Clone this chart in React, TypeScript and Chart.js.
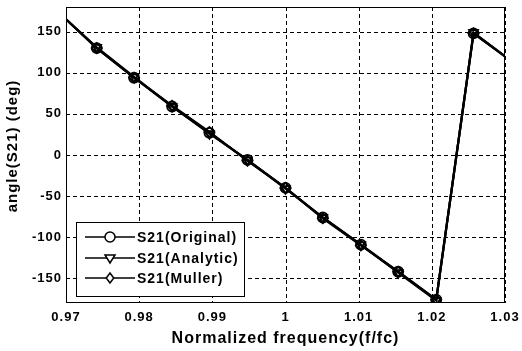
import React, { useEffect, useRef } from 'react';
import { Chart, registerables } from 'chart.js';

Chart.register(...registerables);

// ---- Data ----
const freq = [0.97, 0.9742, 0.9793, 0.9845, 0.9896, 0.9948, 1.0, 1.0051, 1.0103, 1.0154, 1.0206, 1.0257, 1.03];
const s21Original = [165, 130, 94, 59, 27, -6, -40, -76, -109, -142, -176, 148, 120];
const s21Analytic = [165, 131, 95, 59, 26, -6, -41, -76, -109, -143, -177, 149, 120];
const s21Muller = [165, 130, 94, 60, 28, -7, -40, -77, -110, -142, -176, 148, 120];
const xTicks = [0.97, 0.98, 0.99, 1.0, 1.01, 1.02, 1.03];
const yTicks = [-150, -100, -50, 0, 50, 100, 150];
const seriesNames = ['S21(Original)', 'S21(Analytic)', 'S21(Muller)'];
const xTitle = 'Normalized frequency(f/fc)';
const yTitle = 'angle(S21) (deg)';

const FONT = "'Liberation Sans', Arial, sans-serif";

function markerRadii(n: number) {
  return freq.map((_, i) => (i === 0 || i === n - 1 ? 0 : 5));
}

function drawMarker(ctx: CanvasRenderingContext2D, kind: string, x: number, y: number, r: number) {
  ctx.beginPath();
  if (kind === 'circle') {
    ctx.arc(x, y, r, 0, Math.PI * 2);
  } else if (kind === 'tri') {
    ctx.moveTo(x - r, y - r * 0.6);
    ctx.lineTo(x + r, y - r * 0.6);
    ctx.lineTo(x, y + r);
    ctx.closePath();
  } else {
    ctx.moveTo(x, y - r);
    ctx.lineTo(x + r * 0.75, y);
    ctx.lineTo(x, y + r);
    ctx.lineTo(x - r * 0.75, y);
    ctx.closePath();
  }
  ctx.fillStyle = '#fff';
  ctx.fill();
  ctx.stroke();
}

const decorPlugin = {
  id: 'decor',
  beforeDraw(chart: any) {
    (chart.ctx as any).letterSpacing = '1px';
  },
  beforeDatasetsDraw(chart: any) {
    const ctx: CanvasRenderingContext2D = chart.ctx;
    const a = chart.chartArea;
    const xs = chart.scales.x;
    const ys = chart.scales.y;
    ctx.save();
    ctx.strokeStyle = '#000';
    ctx.lineWidth = 1;
    ctx.setLineDash([4, 3]);
    xTicks.forEach((v) => {
      const px = Math.round(xs.getPixelForValue(v)) + 0.5;
      ctx.beginPath();
      ctx.moveTo(px, a.top);
      ctx.lineTo(px, a.bottom);
      ctx.stroke();
    });
    yTicks.forEach((v) => {
      const py = Math.round(ys.getPixelForValue(v)) + 0.5;
      ctx.beginPath();
      ctx.moveTo(a.left, py);
      ctx.lineTo(a.right, py);
      ctx.stroke();
    });
    ctx.restore();
  },
  afterDraw(chart: any) {
    const ctx: CanvasRenderingContext2D = chart.ctx;
    const a = chart.chartArea;
    ctx.save();
    // frame
    ctx.strokeStyle = '#000';
    ctx.lineWidth = 1;
    ctx.setLineDash([]);
    ctx.strokeRect(Math.round(a.left) + 0.5, Math.round(a.top) + 0.5, Math.round(a.right - a.left) - 1, Math.round(a.bottom - a.top) - 1);

    // legend box
    const bx = 76.5, by = 222.5, bw = 168, bh = 74;
    ctx.fillStyle = '#fff';
    ctx.fillRect(bx, by, bw, bh);
    ctx.strokeRect(bx, by, bw, bh);
    const rows = [237, 258, 278];
    const kinds = ['circle', 'tri', 'diamond'];
    ctx.font = `bold 14px ${FONT}`;
    (ctx as any).letterSpacing = '1px';
    ctx.textBaseline = 'middle';
    ctx.textAlign = 'left';
    rows.forEach((ry, i) => {
      ctx.strokeStyle = '#000';
      ctx.lineWidth = 1.5;
      ctx.beginPath();
      ctx.moveTo(85, ry);
      ctx.lineTo(135, ry);
      ctx.stroke();
      drawMarker(ctx, kinds[i], 110, ry, 5);
      ctx.fillStyle = '#000';
      ctx.fillText(seriesNames[i], 137, ry + 1);
    });

    // axis titles
    ctx.fillStyle = '#000';
    ctx.font = `bold 16px ${FONT}`;
    ctx.textAlign = 'center';
    ctx.textBaseline = 'middle';
    ctx.fillText(xTitle, (a.left + a.right) / 2, 339);
    ctx.save();
    ctx.translate(13, 146);
    ctx.rotate(-Math.PI / 2);
    ctx.font = `bold 15px ${FONT}`;
    ctx.fillText(yTitle, 0, 0);
    ctx.restore();
    ctx.restore();
  },
};

export default function App() {
  const ref = useRef<HTMLCanvasElement | null>(null);
  useEffect(() => {
    document.body.style.margin = '0';
    const canvas = ref.current;
    if (!canvas) return;
    const mk = (label: string, vals: number[], style: string, rotation: number) => ({
      label,
      data: freq.map((f, i) => ({ x: f, y: vals[i] })),
      borderColor: '#000',
      borderWidth: 2.2,
      pointStyle: style,
      rotation,
      pointRadius: markerRadii(freq.length),
      pointBorderColor: '#000',
      pointBackgroundColor: 'rgba(255,255,255,0)',
      pointBorderWidth: 1.8,
      tension: 0,
      fill: false,
    });
    const chart = new Chart(canvas, {
      type: 'line',
      data: {
        datasets: [
          mk(seriesNames[0], s21Original, 'circle', 0),
          mk(seriesNames[1], s21Analytic, 'triangle', 180),
          mk(seriesNames[2], s21Muller, 'rectRot', 0),
        ],
      },
      options: {
        animation: false,
        responsive: false,
        devicePixelRatio: 1,
        layout: { padding: { top: 7, right: 17, left: 0, bottom: 0 } },
        plugins: { legend: { display: false }, tooltip: { enabled: false } },
        scales: {
          x: {
            type: 'linear',
            min: 0.97,
            max: 1.03,
            afterFit: (s: any) => {
              s.height = 48;
              s.paddingLeft = 0;
              s.paddingRight = 0;
            },
            afterBuildTicks: (s: any) => { s.ticks = xTicks.map((v) => ({ value: v })); },
            grid: { display: false, drawTicks: false },
            border: { display: false },
            ticks: {
              color: '#000',
              padding: 7,
              maxRotation: 0,
              font: { family: FONT, size: 13, weight: 'bold' },
              callback: (v: any) => String(Number(Number(v).toFixed(2))),
            },
          },
          y: {
            type: 'linear',
            min: -180,
            max: 180,
            afterFit: (s: any) => {
              s.width = 66;
              s.paddingTop = 0;
              s.paddingBottom = 0;
            },
            afterBuildTicks: (s: any) => { s.ticks = yTicks.map((v) => ({ value: v })); },
            grid: { display: false, drawTicks: false },
            border: { display: false },
            ticks: {
              color: '#000',
              padding: 4,
              font: { family: FONT, size: 13, weight: 'bold' },
              callback: (v: any) => String(v),
            },
          },
        },
      } as any,
      plugins: [decorPlugin],
    });
    return () => chart.destroy();
  }, []);
  return (
    <div style={{ position: 'fixed', left: 0, top: 0, width: 522, height: 351, background: '#fff' }}>
      <canvas ref={ref} width={522} height={351} />
    </div>
  );
}
